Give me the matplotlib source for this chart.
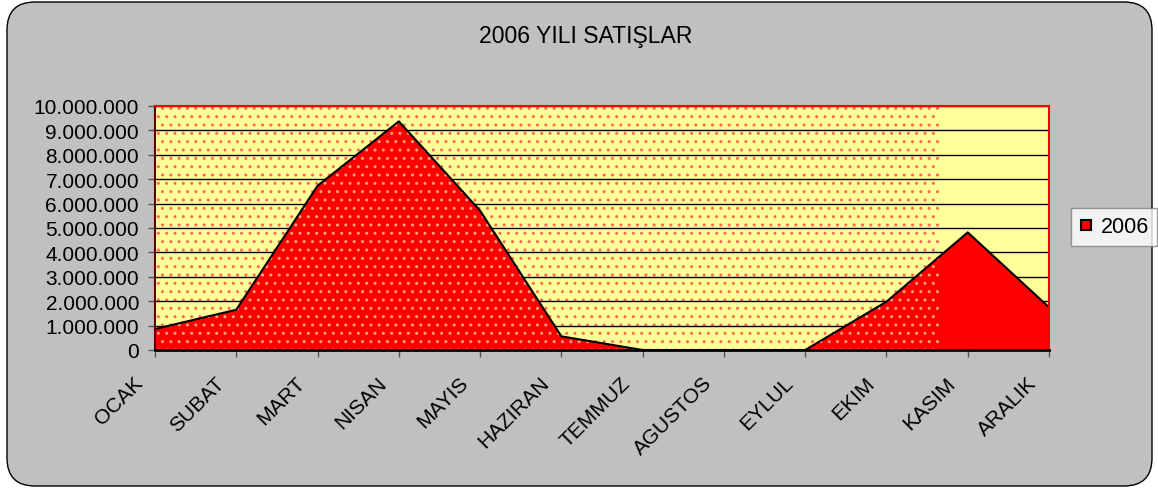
import matplotlib
matplotlib.use("Agg")
import matplotlib.pyplot as plt
from matplotlib.patches import FancyBboxPatch, Rectangle, PathPatch
from matplotlib.ticker import FuncFormatter, MultipleLocator
from matplotlib.lines import Line2D
import matplotlib.transforms as mtransforms

plt.rcParams['font.family'] = ['Liberation Sans', 'DejaVu Sans']

title = "2006 YILI SATIŞLAR"
months = ["OCAK", "SUBAT", "MART", "NISAN", "MAYIS", "HAZIRAN",
          "TEMMUZ", "AGUSTOS", "EYLUL", "EKIM", "KASIM", "ARALIK"]
sales_2006 = [860000, 1650000, 6730000, 9370000, 5710000, 560000,
              0, 0, 0, 1980000, 4820000, 1750000]
series_name = "2006"

W, H = 1158, 489
fig = plt.figure(figsize=(W / 100, H / 100), dpi=100)
fig.patch.set_facecolor('white')

# rounded chart border
border = FancyBboxPatch((7, 2), 1145, 484,
                        boxstyle="round,pad=0,rounding_size=28",
                        transform=None, facecolor='#C0C0C0',
                        edgecolor='black', linewidth=1.0, zorder=-10)
fig.patches.append(border)

ax = fig.add_axes([155 / W, 1 - 351 / H, (1049 - 155) / W, (351 - 107) / H])
ax.set_facecolor('#FFFF99')
x = list(range(len(months)))
ax.set_xlim(0, len(months) - 1)
ax.set_ylim(0, 10000000)

# dotted pattern on the background (covers part of plot area)
pat_end = 9.65
bg_pat = Rectangle((0, 0), pat_end, 10000000, facecolor='none',
                   edgecolor='#FF6A50', linewidth=0, hatch='..', zorder=0.5)
ax.add_patch(bg_pat)

# gridlines
ax.yaxis.set_major_locator(MultipleLocator(1000000))
ax.grid(axis='y', color='black', linewidth=1.0, zorder=1)
ax.set_axisbelow(True)

# area
poly = ax.fill_between(x, sales_2006, 0, facecolor='#FF0000',
                       edgecolor='none', zorder=2)
ax.plot(x, sales_2006, color='black', linewidth=1.5, zorder=4)

# dots over red area
path = poly.get_paths()[0]
clip = PathPatch(path, transform=ax.transData, facecolor='none', edgecolor='none')
ax.add_patch(clip)
red_pat = Rectangle((0, 0), pat_end, 10000000, facecolor='none',
                    edgecolor='#FFA080', linewidth=0, hatch='..', zorder=3)
ax.add_patch(red_pat)
red_pat.set_clip_path(clip)

# spines
ax.spines['top'].set_color('#FF0000')
ax.spines['right'].set_color('#FF0000')
ax.spines['top'].set_linewidth(1.5)
ax.spines['right'].set_linewidth(1.5)
ax.spines['left'].set_color('#600000')
ax.spines['left'].set_linewidth(1.5)
ax.spines['bottom'].set_color('black')
ax.spines['bottom'].set_linewidth(2.0)
for s in ax.spines.values():
    s.set_zorder(5)

fmt = FuncFormatter(lambda v, p: f"{int(round(v)):,}".replace(",", "."))
ax.yaxis.set_major_formatter(fmt)
ax.tick_params(axis='y', labelsize=15, length=5, width=1, color='#555555', pad=6.5)

ax.set_xticks(x)
ax.set_xticklabels(months, rotation=45, ha='right', va='top', fontsize=15)
ax.tick_params(axis='x', length=5, width=1, color='#555555', pad=11.5)
offset = mtransforms.ScaledTranslation(-8.5 / 100, 0, fig.dpi_scale_trans)
for lab in ax.get_xticklabels():
    lab.set_transform(lab.get_transform() + offset)

fig.text(585.5 / W, 1 - 43 / H, title, ha='center', va='baseline', fontsize=16.6)

# legend
handle = Line2D([], [], marker='s', linestyle='none', markersize=7.5,
                markerfacecolor='#FF0000', markeredgecolor='black', markeredgewidth=1.5)
leg = fig.legend([handle], [series_name], loc='center left',
                 bbox_to_anchor=(1071 / W, 1 - 228 / H), fontsize=15.5,
                 frameon=True, fancybox=False, borderpad=0.4,
                 handletextpad=0.37, handlelength=0.6, borderaxespad=0)
leg.get_frame().set_edgecolor('#808080')
leg.get_frame().set_linewidth(1.0)

fig.savefig("out.png", dpi=100, facecolor=fig.get_facecolor())
